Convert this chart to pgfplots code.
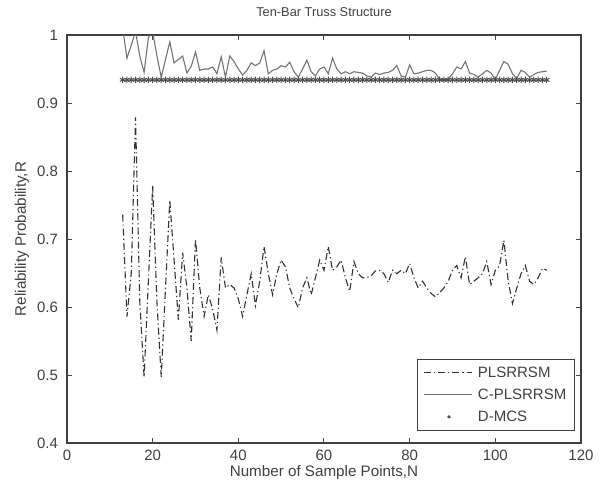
\documentclass[border=0pt]{standalone}
\usepackage{fontspec}
\setmainfont{Liberation Sans}
\usepackage{pgfplots}
\usepackage{pgfplotstable}
\pgfplotsset{compat=1.18}
\definecolor{axgray}{gray}{0.25}
\definecolor{txtgray}{gray}{0.25}
\definecolor{cgray}{gray}{0.45}
\definecolor{pgray}{gray}{0.2}
\definecolor{mgray}{gray}{0.3}
\pgfplotsset{
  lineleg/.style={legend image code/.code={\draw[##1] (0pt,0pt) -- (24pt,0pt); \path[draw=none,fill=none] (0pt,0pt) -- (26pt,0pt);}},
  markleg/.style={legend image code/.code={\draw[##1, mark size=0.8pt] plot coordinates {(12.5pt,0pt)}; \path[draw=none,fill=none] (0pt,0pt) -- (26pt,0pt);}},
}

\pgfplotstableread{
N P C D
13 0.736 1.010 0.934
14 0.586 0.966 0.934
15 0.649 0.985 0.934
16 0.879 1.005 0.934
17 0.607 0.969 0.934
18 0.497 0.945 0.934
19 0.638 0.996 0.934
20 0.778 1.005 0.934
21 0.607 0.969 0.934
22 0.497 0.938 0.934
23 0.628 0.964 0.934
24 0.757 0.990 0.934
25 0.669 0.959 0.934
26 0.581 0.964 0.934
27 0.680 0.969 0.934
28 0.628 0.944 0.934
29 0.550 0.954 0.934
30 0.700 0.975 0.934
31 0.628 0.948 0.934
32 0.586 0.950 0.934
33 0.618 0.950 0.934
34 0.597 0.953 0.934
35 0.566 0.943 0.934
36 0.673 0.968 0.934
37 0.628 0.938 0.934
38 0.633 0.969 0.934
39 0.628 0.961 0.934
40 0.612 0.950 0.934
41 0.586 0.941 0.934
42 0.618 0.948 0.934
43 0.649 0.959 0.934
44 0.602 0.955 0.934
45 0.638 0.959 0.934
46 0.689 0.977 0.934
47 0.649 0.943 0.934
48 0.618 0.948 0.934
49 0.649 0.950 0.934
50 0.669 0.955 0.934
51 0.659 0.953 0.934
52 0.628 0.960 0.934
53 0.612 0.946 0.934
54 0.599 0.938 0.934
55 0.628 0.950 0.934
56 0.643 0.963 0.934
57 0.618 0.946 0.934
58 0.643 0.940 0.934
59 0.669 0.950 0.934
60 0.654 0.953 0.934
61 0.689 0.943 0.934
62 0.654 0.966 0.934
63 0.659 0.950 0.934
64 0.669 0.943 0.934
65 0.643 0.946 0.934
66 0.623 0.943 0.934
67 0.667 0.946 0.934
68 0.649 0.945 0.934
69 0.643 0.944 0.934
70 0.643 0.940 0.934
71 0.646 0.938 0.934
72 0.653 0.944 0.934
73 0.654 0.942 0.934
74 0.649 0.944 0.934
75 0.636 0.945 0.934
76 0.654 0.948 0.934
77 0.649 0.955 0.934
78 0.654 0.940 0.934
79 0.649 0.938 0.934
80 0.664 0.956 0.934
81 0.643 0.943 0.934
82 0.628 0.944 0.934
83 0.638 0.946 0.934
84 0.628 0.948 0.934
85 0.620 0.948 0.934
86 0.615 0.944 0.934
87 0.621 0.935 0.934
88 0.628 0.934 0.934
89 0.638 0.935 0.934
90 0.654 0.943 0.934
91 0.661 0.953 0.934
92 0.643 0.950 0.934
93 0.674 0.961 0.934
94 0.633 0.944 0.934
95 0.638 0.942 0.934
96 0.643 0.938 0.934
97 0.649 0.943 0.934
98 0.667 0.948 0.934
99 0.633 0.944 0.934
100 0.654 0.935 0.934
101 0.661 0.948 0.934
102 0.698 0.961 0.934
103 0.638 0.957 0.934
104 0.605 0.943 0.934
105 0.628 0.936 0.934
106 0.649 0.948 0.934
107 0.661 0.945 0.934
108 0.638 0.938 0.934
109 0.633 0.942 0.934
110 0.643 0.945 0.934
111 0.657 0.946 0.934
112 0.654 0.947 0.934
}\datatable

\begin{document}
\begin{tikzpicture}
\begin{axis}[
  name=ax,
  scale only axis,
  width=257pt, height=204pt,
  xmin=0, xmax=120, ymin=0.4, ymax=1,
  enlargelimits=false,
  xtick={0,20,...,120},
  ytick={0.4,0.5,...,1.0},
  yticklabels={0.4,0.5,0.6,0.7,0.8,0.9,1},
  tick align=inside,
  major tick length=2.5pt,
  axis line style={axgray, line width=0.6pt},
  every tick/.style={axgray, line width=0.5pt},
  /pgf/number format/assume math mode=true,
  tick label style={font=\fontsize{7.5}{9}\selectfont, text=txtgray},
  yticklabel style={xshift=-1pt},
  every axis title shift=0pt,
  title={Ten-Bar Truss Structure},
  title style={font=\fontsize{6.4}{8}\selectfont, text=txtgray, at={(axis description cs:0.5,1.056)}, anchor=center},
  xlabel={Number of Sample Points,N},
  xlabel style={font=\fontsize{7.6}{9}\selectfont, text=txtgray, at={(axis description cs:0.5,-0.0735)}, anchor=center},
  ylabel={Reliability Probability,R},
  ylabel style={font=\fontsize{7.6}{9}\selectfont, text=txtgray, at={(axis description cs:-0.0875,0.5)}, anchor=center},
  legend style={at={(rel axis cs:0.988,0.029)}, anchor=south east, draw=axgray, line width=0.5pt,
    font=\fontsize{7.5}{9}\selectfont, text=txtgray, inner xsep=3pt, inner ysep=2.5pt,
    row sep=2.2pt, nodes={text height=5.5pt, text depth=1.3pt, inner sep=1pt}},
  legend cell align=left,
]
\addplot[pgray, line width=0.55pt, dash pattern=on 3.5pt off 1.5pt on 0.6pt off 1.5pt, lineleg]
  table[x=N, y=P] {\datatable};
\addlegendentry{PLSRRSM}
\addplot[cgray, line width=0.55pt, lineleg]
  table[x=N, y=C] {\datatable};
\addlegendentry{C-PLSRRSM}
\addplot[mgray, only marks, mark=asterisk, mark size=1.6pt, mark options={line width=0.5pt}, markleg]
  table[x=N, y=D] {\datatable};
\addlegendentry{D-MCS}
\end{axis}
\pgfresetboundingbox
\path[use as bounding box] ([xshift=-33.5pt,yshift=-19.5pt]ax.south west) rectangle ([xshift=12.5pt,yshift=17.5pt]ax.north east);
\end{tikzpicture}
\end{document}
